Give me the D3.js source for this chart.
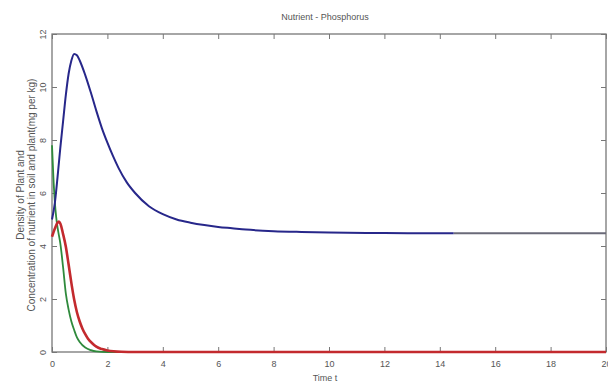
<!DOCTYPE html>
<html>
<head>
<meta charset="utf-8">
<script src="https://cdn.jsdelivr.net/npm/d3@7"></script>
<style>
  body { margin: 0; background: #fff; }
  text { font-family: "Liberation Sans", Arial, sans-serif; fill: #555; }
</style>
</head>
<body>
<div id="vis1"></div>
<script>
// frame
const FRAME_WIDTH = 608;
const FRAME_HEIGHT = 385;
const MARGINS = {left: 52, right: 2, top: 34, bottom: 33};

// data
const X_TICKS = [0, 2, 4, 6, 8, 10, 12, 14, 16, 18, 20];
const Y_TICKS = [0, 2, 4, 6, 8, 10, 12];

const blueT = [0, 0.1, 0.2, 0.3, 0.4, 0.5, 0.6, 0.7, 0.8, 0.9, 1.0, 1.2, 1.4, 1.6, 1.8, 2.0, 2.2, 2.4, 2.7, 3.0, 3.5, 4.0, 4.5, 5.0, 5.5, 6, 6.5, 7, 8, 9, 10, 12, 14.5];
const blueV = [5.0, 5.6, 6.6, 7.7, 8.7, 9.7, 10.5, 11.0, 11.25, 11.2, 11.0, 10.45, 9.8, 9.1, 8.45, 7.9, 7.4, 6.95, 6.4, 6.0, 5.5, 5.2, 5.0, 4.88, 4.79, 4.72, 4.67, 4.62, 4.56, 4.53, 4.51, 4.49, 4.48];

const greyT = [14.5, 20];
const greyV = [4.48, 4.48];

const greenT = [0, 0.05, 0.1, 0.15, 0.2, 0.25, 0.3, 0.4, 0.5, 0.6, 0.7, 0.8, 0.9, 1.0, 1.2, 1.4, 1.6, 2.0, 3.0];
const greenV = [7.8, 6.6, 5.7, 5.1, 4.7, 4.4, 4.1, 3.2, 2.2, 1.6, 1.15, 0.83, 0.55, 0.38, 0.17, 0.07, 0.02, 0, 0];

const redT = [0, 0.1, 0.2, 0.25, 0.3, 0.4, 0.5, 0.6, 0.7, 0.8, 0.9, 1.0, 1.1, 1.2, 1.3, 1.45, 1.6, 1.8, 2.0, 2.5, 3.0, 20];
const redV = [4.35, 4.65, 4.88, 4.92, 4.85, 4.45, 3.97, 3.3, 2.6, 1.98, 1.5, 1.15, 0.88, 0.67, 0.5, 0.33, 0.2, 0.11, 0.06, 0.01, 0, 0];

const VIS_WIDTH = FRAME_WIDTH - MARGINS.left - MARGINS.right;
const VIS_HEIGHT = FRAME_HEIGHT - MARGINS.top - MARGINS.bottom;

const FRAME1 = d3.select("#vis1")
  .append("svg")
    .attr("width", FRAME_WIDTH)
    .attr("height", FRAME_HEIGHT);

const X_SCALE = d3.scaleLinear().domain([0, 20]).range([0, VIS_WIDTH]);
const Y_SCALE = d3.scaleLinear().domain([0, 12]).range([VIS_HEIGHT, 0]);

const plot = FRAME1.append("g")
  .attr("transform", "translate(" + MARGINS.left + "," + MARGINS.top + ")");

// box
plot.append("rect")
  .attr("width", VIS_WIDTH)
  .attr("height", VIS_HEIGHT)
  .attr("fill", "none")
  .attr("stroke", "#777")
  .attr("stroke-width", 1.3);

// axes with inward ticks (matlab style)
function styleAxis(g) {
  g.select(".domain").remove();
  g.selectAll(".tick line").attr("stroke", "#777").attr("stroke-width", 1);
  g.selectAll(".tick text").attr("font-size", "9px").attr("fill", "#666");
}

plot.append("g")
  .attr("transform", "translate(0," + VIS_HEIGHT + ")")
  .call(d3.axisBottom(X_SCALE).tickValues(X_TICKS).tickSizeInner(-5).tickPadding(9))
  .call(styleAxis);

plot.append("g")
  .call(d3.axisTop(X_SCALE).tickValues(X_TICKS).tickSizeInner(-5).tickFormat(""))
  .call(styleAxis);

const yAx = plot.append("g")
  .call(d3.axisLeft(Y_SCALE).tickValues(Y_TICKS).tickSizeInner(-5).tickPadding(6))
  .call(styleAxis);
yAx.selectAll(".tick text")
  .attr("transform", "rotate(-90)")
  .attr("x", 0).attr("y", -6)
  .attr("text-anchor", "middle")
  .attr("dy", "0");

plot.append("g")
  .attr("transform", "translate(" + VIS_WIDTH + ",0)")
  .call(d3.axisRight(Y_SCALE).tickValues(Y_TICKS).tickSizeInner(-5).tickFormat(""))
  .call(styleAxis);

// lines
const line = d3.line()
  .x((d) => X_SCALE(d[0]))
  .y((d) => Y_SCALE(d[1]))
  .curve(d3.curveMonotoneX);

function draw(ts, vs, color, w) {
  plot.append("path")
    .datum(ts.map((t, i) => [t, vs[i]]))
    .attr("d", line)
    .attr("fill", "none")
    .attr("stroke", color)
    .attr("stroke-width", w)
    .attr("stroke-linejoin", "round");
}

draw(greyT, greyV, "#6a6a78", 2);
draw(greenT, greenV, "#2f8a3c", 1.8);
draw(redT, redV, "#c32a2e", 2.6);
draw(blueT, blueV, "#27278a", 2);

// titles
FRAME1.append("text")
  .attr("x", 325).attr("y", 20)
  .attr("text-anchor", "middle")
  .attr("font-size", "9px")
  .text("Nutrient - Phosphorus");

FRAME1.append("text")
  .attr("x", 325).attr("y", 381)
  .attr("text-anchor", "middle")
  .attr("font-size", "9px")
  .text("Time t");

FRAME1.append("text")
  .attr("transform", "translate(24,195) rotate(-90)")
  .attr("text-anchor", "middle")
  .attr("font-size", "10px")
  .text("Density of Plant and");

FRAME1.append("text")
  .attr("transform", "translate(35,195) rotate(-90)")
  .attr("text-anchor", "middle")
  .attr("font-size", "10px")
  .text("Concentration of nutrient in soil and plant(mg per kg)");
</script>
</body>
</html>
